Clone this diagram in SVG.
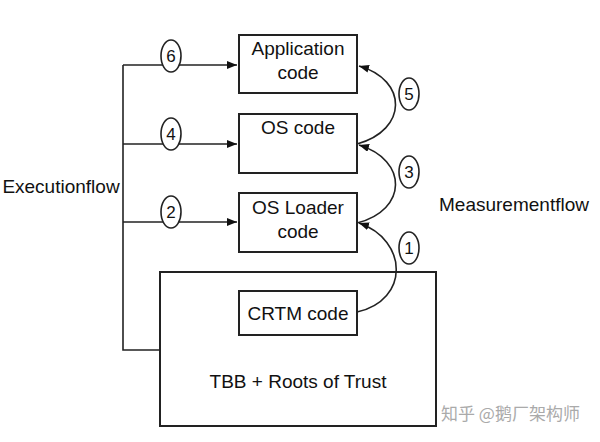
<svg xmlns="http://www.w3.org/2000/svg" width="600" height="442" viewBox="0 0 600 442">
<defs>
<marker id="ah" markerWidth="10" markerHeight="8" refX="10" refY="4" orient="auto" markerUnits="userSpaceOnUse"><path d="M0,0 L10,4 L0,8 z" fill="#111"/></marker>
<style>
.b{fill:#fff;stroke:#222;stroke-width:2}
.l{fill:none;stroke:#222;stroke-width:1.6}
.t{font-family:"Liberation Sans",Arial,sans-serif;font-size:19px;fill:#111;text-anchor:middle}
.n{font-family:"Liberation Sans",Arial,sans-serif;font-size:17px;fill:#111;text-anchor:middle}
.c{fill:#fff;stroke:#222;stroke-width:1.6}
</style>
</defs>
<rect width="600" height="442" fill="#fff"/>
<g id="tbb"><rect class="b" x="160" y="272" width="276" height="154"/><text class="t" x="298" y="388">TBB + Roots of Trust</text></g>
<g id="crtm"><rect class="b" x="239" y="291" width="118" height="44"/><text class="t" x="298" y="320">CRTM code</text></g>
<g id="app"><rect class="b" x="239" y="35" width="118" height="58"/><text class="t" x="298" y="55">Application</text><text class="t" x="298" y="79">code</text></g>
<g id="os"><rect class="b" x="239" y="114" width="118" height="59"/><text class="t" x="298" y="134">OS code</text></g>
<g id="loader"><rect class="b" x="239" y="193" width="118" height="59"/><text class="t" x="298" y="214">OS Loader</text><text class="t" x="298" y="238">code</text></g>
<g id="connectors">
<path class="l" d="M160,350 H123 V65"/>
<path class="l" d="M123,65 H237" marker-end="url(#ah)"/>
<path class="l" d="M123,144 H237" marker-end="url(#ah)"/>
<path class="l" d="M123,222 H237" marker-end="url(#ah)"/>
<path class="l" d="M357,312 C410,300 408,240 359,223" marker-end="url(#ah)"/>
<path class="l" d="M357,144 C408,130 408,80 359,66" marker-end="url(#ah)"/>
<path class="l" d="M357,223 C408,210 408,160 359,145" marker-end="url(#ah)"/>
</g>
<g id="labels">
<ellipse class="c" cx="171" cy="56" rx="10" ry="16"/><text class="n" x="171" y="62">6</text>
<ellipse class="c" cx="171" cy="134" rx="10" ry="16"/><text class="n" x="171" y="140">4</text>
<ellipse class="c" cx="171" cy="212" rx="10" ry="16"/><text class="n" x="171" y="218">2</text>
<ellipse class="c" cx="409" cy="94" rx="10" ry="16"/><text class="n" x="409" y="100">5</text>
<ellipse class="c" cx="409" cy="172" rx="10" ry="16"/><text class="n" x="409" y="178">3</text>
<ellipse class="c" cx="409" cy="248" rx="10" ry="16"/><text class="n" x="409" y="254">1</text>
<text class="t" x="61" y="193">Executionflow</text>
<text class="t" x="514" y="211">Measurementflow</text>
<text x="441" y="420" style="font-family:'Noto Sans CJK SC',sans-serif;font-size:17px;fill:#aaa">知乎 @鹅厂架构师</text>
</g>
</svg>
